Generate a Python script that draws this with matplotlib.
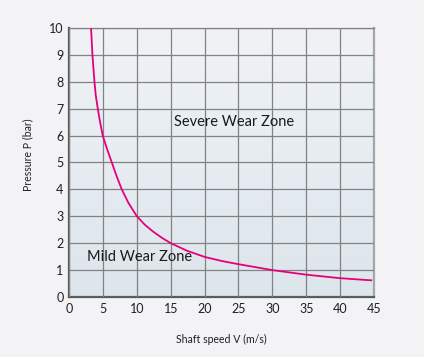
import numpy as np
import matplotlib.pyplot as plt
from matplotlib.colors import LinearSegmentedColormap

# limit curve
speed = [3.24, 3.44, 3.59, 3.74, 3.93, 4.23, 4.57, 4.96, 5.6, 6.3, 7.0, 7.77,
         8.75, 10.0, 11.2, 12.4, 13.7, 15.0, 17.4, 20, 22.5, 25, 30, 35, 40, 44.6]
pressure = [10, 9, 8.5, 8, 7.5, 7, 6.5, 6, 5.5, 5, 4.5, 4,
            3.5, 3.0, 2.68, 2.43, 2.2, 2.0, 1.72, 1.49, 1.34, 1.22, 1.0, 0.83, 0.70, 0.62]

xticks = np.arange(0, 46, 5)
yticks = np.arange(0, 11, 1)

plt.rcParams['font.family'] = ['Lato', 'DejaVu Sans']

fig = plt.figure(figsize=(4.24, 3.57), dpi=100, facecolor='#f3f3f5')
ax = fig.add_axes([0.163, 0.168, 0.719, 0.754])

# soft vertical gradient in the plot area
grad = np.linspace(0, 1, 256).reshape(-1, 1)
cmap = LinearSegmentedColormap.from_list('bg', ['#f0f3f6', '#dde6ec'])
ax.imshow(grad, extent=[0, 1, 0, 1], transform=ax.transAxes, aspect='auto',
          cmap=cmap, origin='upper', zorder=0)

ax.set_xlim(0, 45)
ax.set_ylim(0, 10)
ax.set_xticks(xticks)
ax.set_yticks(yticks)
ax.grid(True, color='#808285', linewidth=0.9, zorder=1)
ax.set_axisbelow(False)

ax.plot(speed, pressure, color='#e6007e', linewidth=1.3, zorder=3,
        solid_joinstyle='round')

ax.text(15.5, 6.5, 'Severe Wear Zone', fontsize=10.5, color='#1a1a1a', va='center', zorder=4)
ax.text(2.7, 1.5, 'Mild Wear Zone', fontsize=10.5, color='#1a1a1a', va='center', zorder=4)

ax.set_xlabel('Shaft speed V (m/s)', fontsize=7.6, color='#231f20', labelpad=14)
ax.set_ylabel('Pressure P (bar)', fontsize=7.6, color='#231f20', labelpad=8)
ax.yaxis.set_label_coords(-0.118, 0.53)
ax.tick_params(length=0, labelsize=9, colors='#231f20', pad=4)

for s in ['left', 'bottom']:
    ax.spines[s].set_color('#58595b')
    ax.spines[s].set_linewidth(1.6)
ax.spines['right'].set_color('#a7a9ac')
ax.spines['right'].set_linewidth(1.6)
ax.spines['top'].set_color('#808285')
ax.spines['top'].set_linewidth(0.9)

fig.savefig('out.png', dpi=100, facecolor=fig.get_facecolor())
